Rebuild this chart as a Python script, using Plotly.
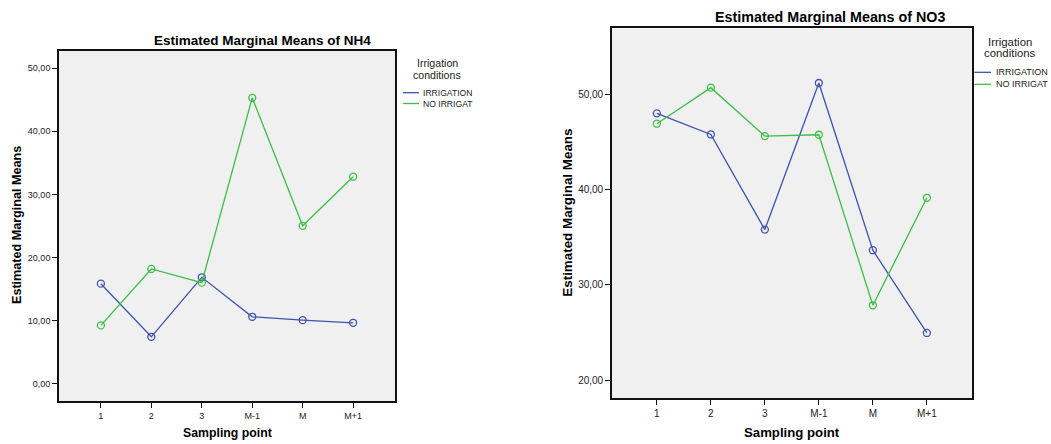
import plotly.graph_objects as go

W, H = 1051, 444

categories = ["1", "2", "3", "M-1", "M", "M+1"]
series_names = ["IRRIGATION", "NO IRRIGAT"]

nh4_irrigation = [15.87, 7.46, 16.88, 10.63, 10.10, 9.68]
nh4_no_irrigat = [9.26, 18.20, 16.03, 45.29, 25.03, 32.80]

no3_irrigation = [48.04, 45.82, 35.82, 51.23, 33.65, 24.95]
no3_no_irrigat = [46.95, 50.74, 45.65, 45.79, 27.86, 39.16]

nh4_tickvals = [0, 10, 20, 30, 40, 50]
nh4_ticktext = ["0,00", "10,00", "20,00", "30,00", "40,00", "50,00"]
no3_tickvals = [20, 30, 40, 50]
no3_ticktext = ["20,00", "30,00", "40,00", "50,00"]

BLUE = "#3F52B0"
GREEN = "#3CBE48"
FONT = "Liberation Sans, Arial, sans-serif"

fig = go.Figure()

xi = list(range(len(categories)))

def add_series(ys, color, name, xa, ya):
    fig.add_trace(go.Scatter(
        x=xi, y=ys, mode="lines+markers", name=name,
        line=dict(color=color, width=1.3),
        marker=dict(symbol="circle-open", size=7, color=color, line=dict(width=1.3, color=color)),
        xaxis=xa, yaxis=ya, showlegend=False,
        hovertemplate="%{y:.2f}<extra>" + name + "</extra>",
    ))

add_series(nh4_irrigation, BLUE, series_names[0], "x", "y")
add_series(nh4_no_irrigat, GREEN, series_names[1], "x", "y")
add_series(no3_irrigation, BLUE, series_names[0], "x2", "y2")
add_series(no3_no_irrigat, GREEN, series_names[1], "x2", "y2")

def px(x):
    return x / W

def py(y):
    return 1 - y / H

axis_common = dict(showgrid=False, zeroline=False, showline=True, mirror=True,
                   linecolor="#111", linewidth=1.6, ticks="outside", ticklen=5,
                   tickwidth=1.3, tickcolor="#111")

fig.update_layout(
    width=W, height=H, margin=dict(l=0, r=0, t=0, b=0),
    paper_bgcolor="white", plot_bgcolor="#F0F0F0",
    font=dict(family=FONT, color="#222"),
    xaxis=dict(domain=[px(59), px(395)], range=[-0.83, 5.83], tickvals=xi, ticktext=categories,
               tickfont=dict(size=9, color="#222"), anchor="y", **axis_common),
    yaxis=dict(domain=[py(401), py(51)], range=[-2.7, 52.7], tickvals=nh4_tickvals, ticktext=nh4_ticktext,
               tickfont=dict(size=9, color="#222"), anchor="x", **axis_common),
    xaxis2=dict(domain=[px(612), px(971.7)], range=[-0.83, 5.83], tickvals=xi, ticktext=categories,
                tickfont=dict(size=10, color="#222"), anchor="y2", **axis_common),
    yaxis2=dict(domain=[py(398.3), py(28.3)], range=[18.08, 56.98], tickvals=no3_tickvals, ticktext=no3_ticktext,
                tickfont=dict(size=10, color="#222"), anchor="x2", **axis_common),
)

def ann(text, x, y, size, bold=False, angle=0, xanchor="center", color="#000"):
    fig.add_annotation(
        text=("<b>%s</b>" % text) if bold else text,
        x=px(x), y=py(y), xref="paper", yref="paper",
        xanchor=xanchor, yanchor="middle", showarrow=False, textangle=angle,
        font=dict(family=FONT, size=size, color=color),
    )

# Left chart text
ann("Estimated Marginal Means of NH4", 262, 40.7, 13.5, bold=True)
ann("Estimated Marginal Means", 17, 225, 12.6, bold=True, angle=-90)
ann("Sampling point", 227, 433, 12.3, bold=True)
ann("Irrigation", 437, 63, 10.6, color="#222")
ann("conditions", 437, 75, 10.6, color="#222")

# Right chart text
ann("Estimated Marginal Means of NO3", 829.7, 17.3, 14.3, bold=True)
ann("Estimated Marginal Means", 566.7, 213, 13.4, bold=True, angle=-90)
ann("Sampling point", 791.8, 432, 13.2, bold=True)
ann("Irrigation", 1010, 41.7, 11.4, color="#222")
ann("conditions", 1010, 53, 11.4, color="#222")

def legend_item(x0, x1, xt, y, color, label, size):
    fig.add_shape(type="line", xref="paper", yref="paper",
                  x0=px(x0), x1=px(x1), y0=py(y), y1=py(y),
                  line=dict(color=color, width=1.3))
    ann(label, xt, y, size, xanchor="left", color="#222")

legend_item(403, 419, 421, 92.7, BLUE, series_names[0], 8.6)
legend_item(403, 419, 421, 103.5, GREEN, series_names[1], 8.6)
legend_item(974.3, 991, 993.5, 72.3, BLUE, series_names[0], 9.0)
legend_item(974.3, 991, 993.5, 84.3, GREEN, series_names[1], 9.0)

fig.write_html("out.html")
